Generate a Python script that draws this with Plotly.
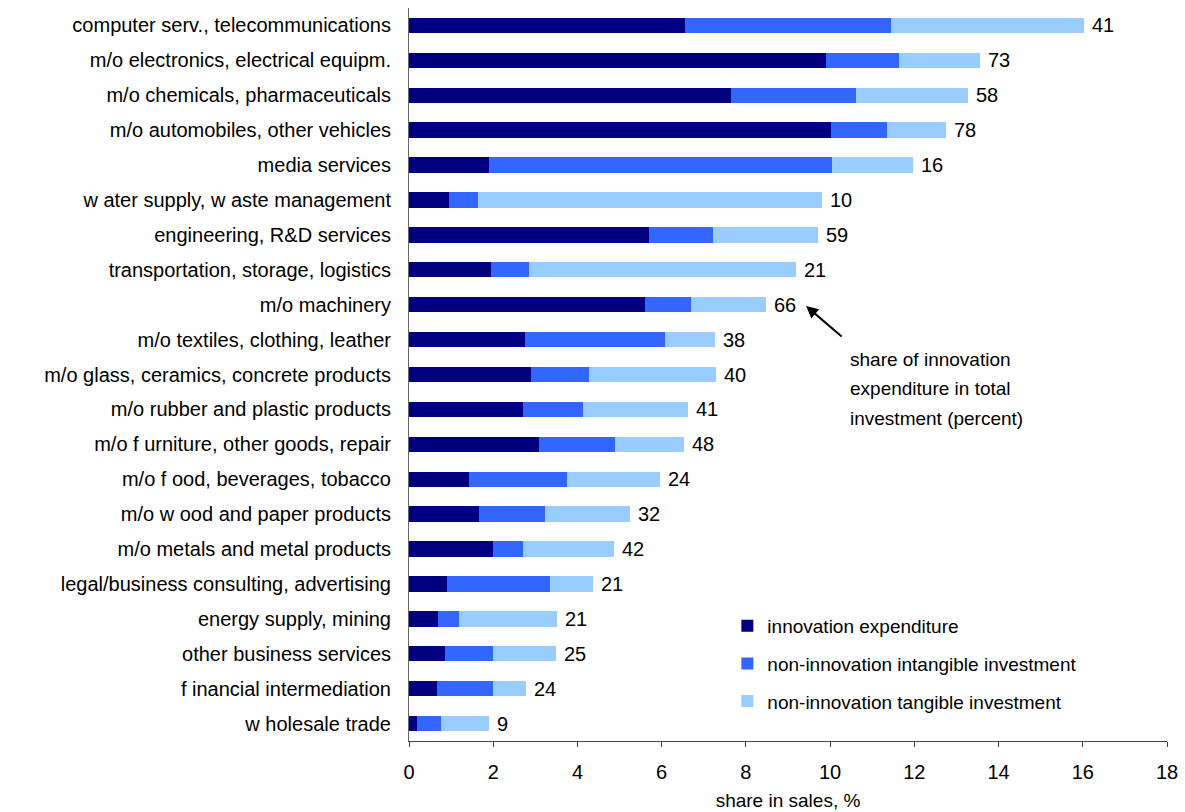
import plotly.graph_objects as go

categories = [
    "computer serv., telecommunications",
    "m/o electronics, electrical equipm.",
    "m/o chemicals, pharmaceuticals",
    "m/o automobiles, other vehicles",
    "media services",
    "w ater supply, w aste management",
    "engineering, R&D services",
    "transportation, storage, logistics",
    "m/o machinery",
    "m/o textiles, clothing, leather",
    "m/o glass, ceramics, concrete products",
    "m/o rubber and plastic products",
    "m/o f urniture, other goods, repair",
    "m/o f ood, beverages, tobacco",
    "m/o w ood and paper products",
    "m/o metals and metal products",
    "legal/business consulting, advertising",
    "energy supply, mining",
    "other business services",
    "f inancial intermediation",
    "w holesale trade",
]

innovation = [6.55, 9.90, 7.64, 10.01, 1.89, 0.94, 5.69, 1.94, 5.60, 2.75, 2.89,
              2.70, 3.08, 1.42, 1.66, 1.99, 0.90, 0.70, 0.85, 0.66, 0.18]
intangible = [4.89, 1.73, 2.98, 1.33, 8.16, 0.71, 1.52, 0.90, 1.09, 3.32, 1.38,
              1.42, 1.80, 2.32, 1.56, 0.71, 2.46, 0.48, 1.14, 1.33, 0.57]
tangible = [4.58, 1.92, 2.65, 1.40, 1.93, 8.15, 2.50, 6.34, 1.78, 1.19, 3.01,
            2.50, 1.64, 2.21, 2.02, 2.16, 1.00, 2.33, 1.49, 0.78, 1.16]
innov_share = [41, 73, 58, 78, 16, 10, 59, 21, 66, 38, 40, 41, 48, 24, 32, 42,
               21, 21, 25, 24, 9]

series_names = ["innovation expenditure",
                "non-innovation intangible investment",
                "non-innovation tangible investment"]
colors = ["#000080", "#3366FF", "#99CCFF"]

note_lines = ["share of innovation", "expenditure in total", "investment (percent)"]
x_ticks = [0, 2, 4, 6, 8, 10, 12, 14, 16, 18]

FONT = "Liberation Sans, Arial, sans-serif"
FS = 20

fig = go.Figure()
for i, (name, vals) in enumerate(zip(series_names, [innovation, intangible, tangible])):
    fig.add_trace(go.Bar(
        y=categories, x=vals, orientation="h", name=name,
        marker=dict(color=colors[i], line=dict(width=0)),
        width=0.44, legendgroup=f"g{i}",
    ))

totals = [a + b + c for a, b, c in zip(innovation, intangible, tangible)]
annotations = []
for cat, tot, s in zip(categories, totals, innov_share):
    annotations.append(dict(x=tot, y=cat, xref="x", yref="y", text=str(s),
                            showarrow=False, xanchor="left", xshift=6,
                            font=dict(size=FS, color="black", family=FONT)))

# arrow pointing at machinery label
annotations.append(dict(x=9.43, y=8.04, ax=10.31, ay=8.95, xref="x", yref="y",
                        axref="x", ayref="y", text="", showarrow=True,
                        arrowhead=2, arrowsize=1.2, arrowwidth=2, arrowcolor="black"))
for k, line in enumerate(note_lines):
    annotations.append(dict(x=10.42, y=9.58 + 0.835 * k, xref="x", yref="y",
                            text=line, showarrow=False, xanchor="left",
                            font=dict(size=FS - 1, color="black", family=FONT)))

fig.update_layout(
    barmode="stack",
    width=1185, height=812,
    margin=dict(l=409, r=18, t=8, b=71),
    paper_bgcolor="white", plot_bgcolor="white",
    font=dict(family=FONT, size=FS, color="black"),
    showlegend=True,
    legend=dict(x=0.42, y=0.183, xanchor="left", yanchor="top",
                bgcolor="rgba(0,0,0,0)", tracegroupgap=10,
                font=dict(size=FS - 1, family=FONT), traceorder="grouped"),
    annotations=annotations,
    xaxis=dict(range=[0, 18], tickvals=x_ticks, ticks="outside", ticklen=5,
               tickcolor="#444", showline=True, linecolor="#444", linewidth=1,
               showgrid=False, zeroline=False, automargin=False,
               ticklabelstandoff=8,
               tickfont=dict(size=FS, family=FONT),
               title=dict(text="share in sales, %", standoff=11,
                          font=dict(size=FS - 1, family=FONT))),
    yaxis=dict(autorange="reversed", showline=True, linecolor="#666",
               linewidth=1, ticks="", showgrid=False, automargin=False,
               ticklabelstandoff=13,
               tickfont=dict(size=FS, family=FONT)),
)

fig.write_html("out.html", config={"displayModeBar": False},
               post_script="document.body.style.margin='0';")
